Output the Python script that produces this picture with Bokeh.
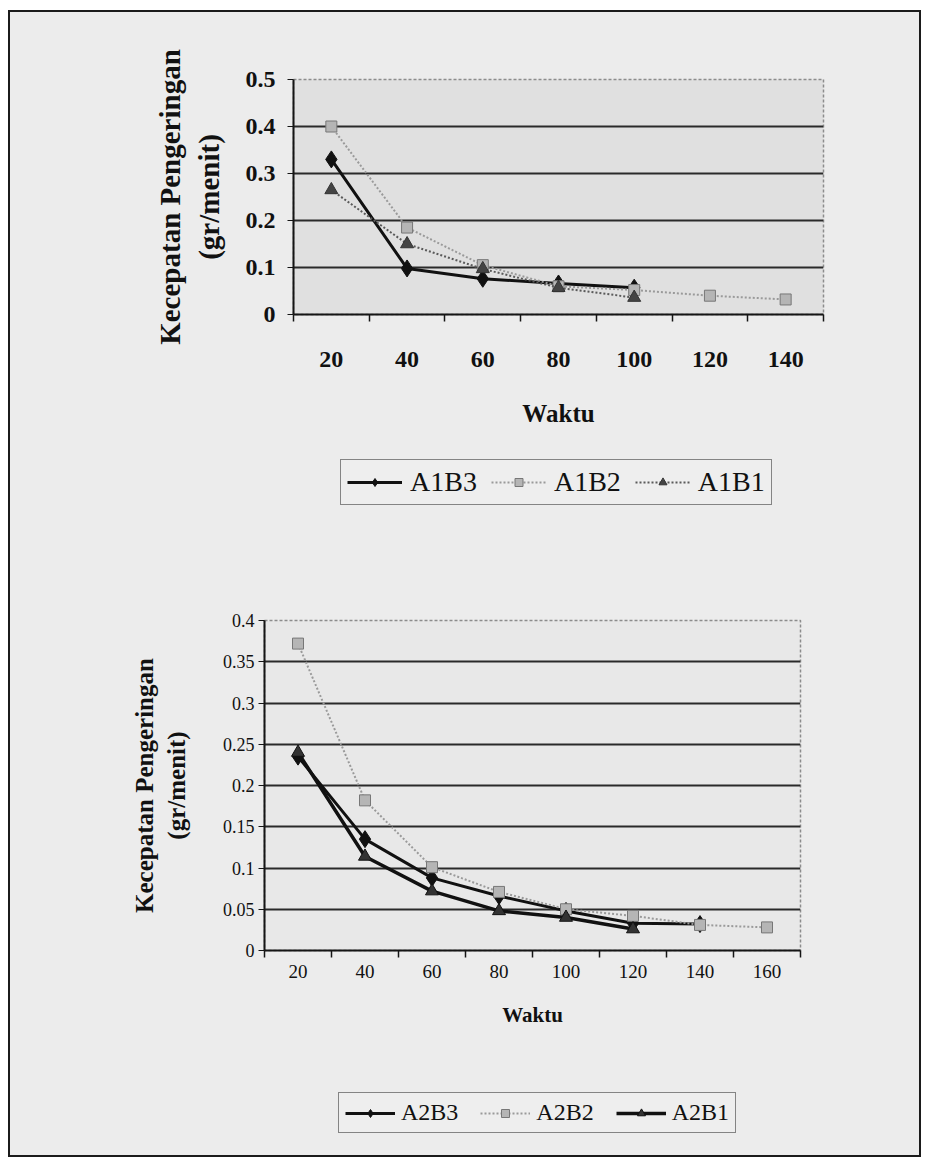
from bokeh.plotting import figure
from bokeh.models import Range1d, FixedTicker, LinearAxis, Legend, LegendItem
from bokeh.layouts import column
from bokeh.embed import file_html
from bokeh.resources import INLINE

# ---------------- data ----------------
waktu_top = [20, 40, 60, 80, 100, 120, 140]
a1b3 = [0.330, 0.098, 0.076, 0.066, 0.057]
a1b2 = [0.400, 0.185, 0.105, 0.060, 0.052, 0.040, 0.032]
a1b1 = [0.265, 0.150, 0.097, 0.057, 0.036]
yticks_top = [0, 0.1, 0.2, 0.3, 0.4, 0.5]
ylabels_top = ["0", "0.1", "0.2", "0.3", "0.4", "0.5"]

waktu_bot = [20, 40, 60, 80, 100, 120, 140, 160]
a2b3 = [0.235, 0.135, 0.088, 0.066, 0.048, 0.033, 0.032]
a2b2 = [0.372, 0.182, 0.101, 0.071, 0.050, 0.042, 0.031, 0.028]
a2b1 = [0.240, 0.114, 0.072, 0.048, 0.040, 0.026]
yticks_bot = [0, 0.05, 0.1, 0.15, 0.2, 0.25, 0.3, 0.35, 0.4]
ylabels_bot = ["0", "0.05", "0.1", "0.15", "0.2", "0.25", "0.3", "0.35", "0.4"]

SERIF = "Liberation Serif"
PAGE_BG = "#ececec"
INNER_W = 909


def add_series(p, series):
    rs = []
    for name, ys, style in series:
        xs = [i + 1 for i in range(len(ys))]
        lr = p.line(xs, ys, line_color=style["lc"], line_width=style["lw"],
                    line_dash=style["dash"])
        mr = p.scatter(xs, ys, marker=style["marker"], size=style["ms"],
                       fill_color=style["mc"], line_color=style["mlc"], line_width=1)
        rs.append((name, lr, mr))
    return rs


def build(waktu, series, yticks, ylabels, geom, st):
    n = len(waktu)
    H, bl, bt, fw, fh = geom
    p = figure(width=INNER_W, height=H,
               x_range=Range1d(0.5, n + 0.5), y_range=Range1d(yticks[0], yticks[-1]),
               output_backend="svg", toolbar_location=None,
               min_border_left=bl, min_border_right=INNER_W - bl - fw,
               min_border_top=bt, min_border_bottom=H - bt - fh,
               background_fill_color=st["plot_bg"], border_fill_color=PAGE_BG,
               outline_line_color="#8c8c8c", outline_line_dash="3 2",
               outline_line_width=1.5)
    p.frame_align = False

    # boundary ticks (Excel category axis style)
    bounds = [i + 0.5 for i in range(n + 1)]
    xa = p.xaxis[0]
    xa.ticker = FixedTicker(ticks=bounds)
    xa.major_label_overrides = {b: "" for b in bounds}
    xa.major_label_standoff = 0
    xa.major_tick_out = 7
    xa.major_tick_in = 0
    xa.minor_tick_out = 0
    xa.minor_tick_in = 0
    xa.axis_line_color = "#151515"
    xa.axis_line_width = 2
    xa.major_tick_line_color = "#151515"
    xa.major_tick_line_width = 1.5

    # category labels
    xl = LinearAxis(ticker=FixedTicker(ticks=[i + 1 for i in range(n)]),
                    major_label_overrides={i + 1: str(w) for i, w in enumerate(waktu)})
    xl.axis_line_color = None
    xl.major_tick_line_color = None
    xl.minor_tick_line_color = None
    xl.major_tick_out = 0
    xl.major_label_standoff = st["xlab_standoff"]
    xl.major_label_text_font = SERIF
    xl.major_label_text_font_size = st["xtick_size"]
    xl.major_label_text_font_style = st["tick_style"]
    xl.major_label_text_color = "#111111"
    xl.axis_label = "Waktu"
    xl.axis_label_text_font = SERIF
    xl.axis_label_text_font_size = st["xtitle_size"]
    xl.axis_label_text_font_style = "bold"
    xl.axis_label_text_color = "#111111"
    xl.axis_label_standoff = st["xtitle_standoff"]
    p.add_layout(xl, "below")

    ya = p.yaxis[0]
    ya.ticker = FixedTicker(ticks=yticks)
    ya.major_label_overrides = {t: l for t, l in zip(yticks, ylabels)}
    ya.major_tick_out = 6
    ya.major_tick_in = 0
    ya.minor_tick_out = 0
    ya.minor_tick_in = 0
    ya.axis_line_color = "#151515"
    ya.axis_line_width = 2
    ya.major_tick_line_color = "#151515"
    ya.major_label_standoff = st["ylab_standoff"]
    ya.major_label_text_font = SERIF
    ya.major_label_text_font_size = st["ytick_size"]
    ya.major_label_text_font_style = st["tick_style"]
    ya.major_label_text_color = "#111111"
    ya.axis_label = "Kecepatan Pengeringan\n(gr/menit)"
    ya.axis_label_text_font = SERIF
    ya.axis_label_text_font_size = st["ytitle_size"]
    ya.axis_label_text_font_style = "bold"
    ya.axis_label_text_color = "#111111"
    ya.axis_label_standoff = st["ytitle_standoff"]

    p.xgrid.visible = False
    p.ygrid.ticker = FixedTicker(ticks=yticks[1:-1])
    p.ygrid.grid_line_color = "#2a2a2a"
    p.ygrid.grid_line_width = 1.8

    add_series(p, series)
    return p


def build_legend(series, height, st):
    # strip below each chart that carries its legend; the series are drawn here
    # too, but far outside the visible range, so only the legend shows
    lp = figure(width=INNER_W, height=height, x_range=Range1d(1000, 1001),
                y_range=Range1d(1000, 1001), output_backend="svg", toolbar_location=None,
                x_axis_location=None, y_axis_location=None,
                min_border_left=0, min_border_right=0, min_border_top=0, min_border_bottom=0,
                background_fill_color=PAGE_BG, border_fill_color=PAGE_BG,
                outline_line_color=None)
    lp.frame_align = False
    lp.grid.visible = False
    rs = add_series(lp, series)
    leg = Legend(items=[LegendItem(label=nm, renderers=[lr, mr]) for nm, lr, mr in rs],
                 orientation="horizontal", location=st["leg_loc"])
    leg.label_text_font = SERIF
    leg.label_text_font_size = st["leg_size"]
    leg.label_text_color = "#111111"
    leg.glyph_width = st["glyph_w"]
    leg.glyph_height = 20
    leg.spacing = st["leg_spacing"]
    leg.padding = st["leg_pad"]
    leg.margin = 0
    leg.label_standoff = st["leg_standoff"]
    leg.border_line_color = "#1a1a1a"
    leg.border_line_width = 1.5
    leg.background_fill_color = "#eeeeee"
    leg.background_fill_alpha = 1.0
    lp.add_layout(leg, "center")
    return lp


solid_black = dict(lc="#111111", lw=3, dash="solid", marker="diamond", ms=17, mc="#111111", mlc="#111111")
gray_sq = dict(lc="#9a9a9a", lw=2, dash="2 2", marker="square", ms=11, mc="#b5b5b5", mlc="#777777")
tri_dot = dict(lc="#5a5a5a", lw=2, dash="2 2", marker="triangle", ms=13, mc="#444444", mlc="#333333")
tri_black = dict(lc="#111111", lw=3.5, dash="solid", marker="triangle", ms=13, mc="#333333", mlc="#111111")

top_style = dict(plot_bg="#e0e0e0", tick_style="bold", xtick_size="24px", ytick_size="24px",
                 xtitle_size="25px", ytitle_size="29px", leg_size="28px",
                 xlab_standoff=30, xtitle_standoff=30, ylab_standoff=12, ytitle_standoff=18,
                 glyph_w=55, leg_spacing=14, leg_pad=6, leg_standoff=8, leg_loc=(330, 17))
bot_style = dict(plot_bg="#e8e8e8", tick_style="normal", xtick_size="19px", ytick_size="18px",
                 xtitle_size="21px", ytitle_size="25px", leg_size="24px",
                 xlab_standoff=7, xtitle_standoff=22, ylab_standoff=4, ytitle_standoff=30,
                 glyph_w=50, leg_spacing=22, leg_pad=6, leg_standoff=6, leg_loc=(328, 22))

top_series = [("A1B3", a1b3, solid_black), ("A1B2", a1b2, gray_sq), ("A1B1", a1b1, tri_dot)]
bot_series = [("A2B3", a2b3, solid_black), ("A2B2", a2b2, gray_sq), ("A2B1", a2b1, tri_black)]

# geometry: (figure height, left border, top border, frame width, frame height)
p1 = build(waktu_top, top_series, yticks_top, ylabels_top, (440, 283, 67, 530, 235), top_style)
l1 = build_legend(top_series, 70, top_style)
p2 = build(waktu_bot, bot_series, yticks_bot, ylabels_bot, (538, 254, 98, 536, 330), bot_style)
l2 = build_legend(bot_series, 95, bot_style)

layout = column(p1, l1, p2, l2, margin=(10, 0, 0, 8), spacing=0,
                styles={"border": "2px solid #1b1b1b", "background-color": PAGE_BG})

open("out.html", "w").write(file_html(layout, INLINE))
